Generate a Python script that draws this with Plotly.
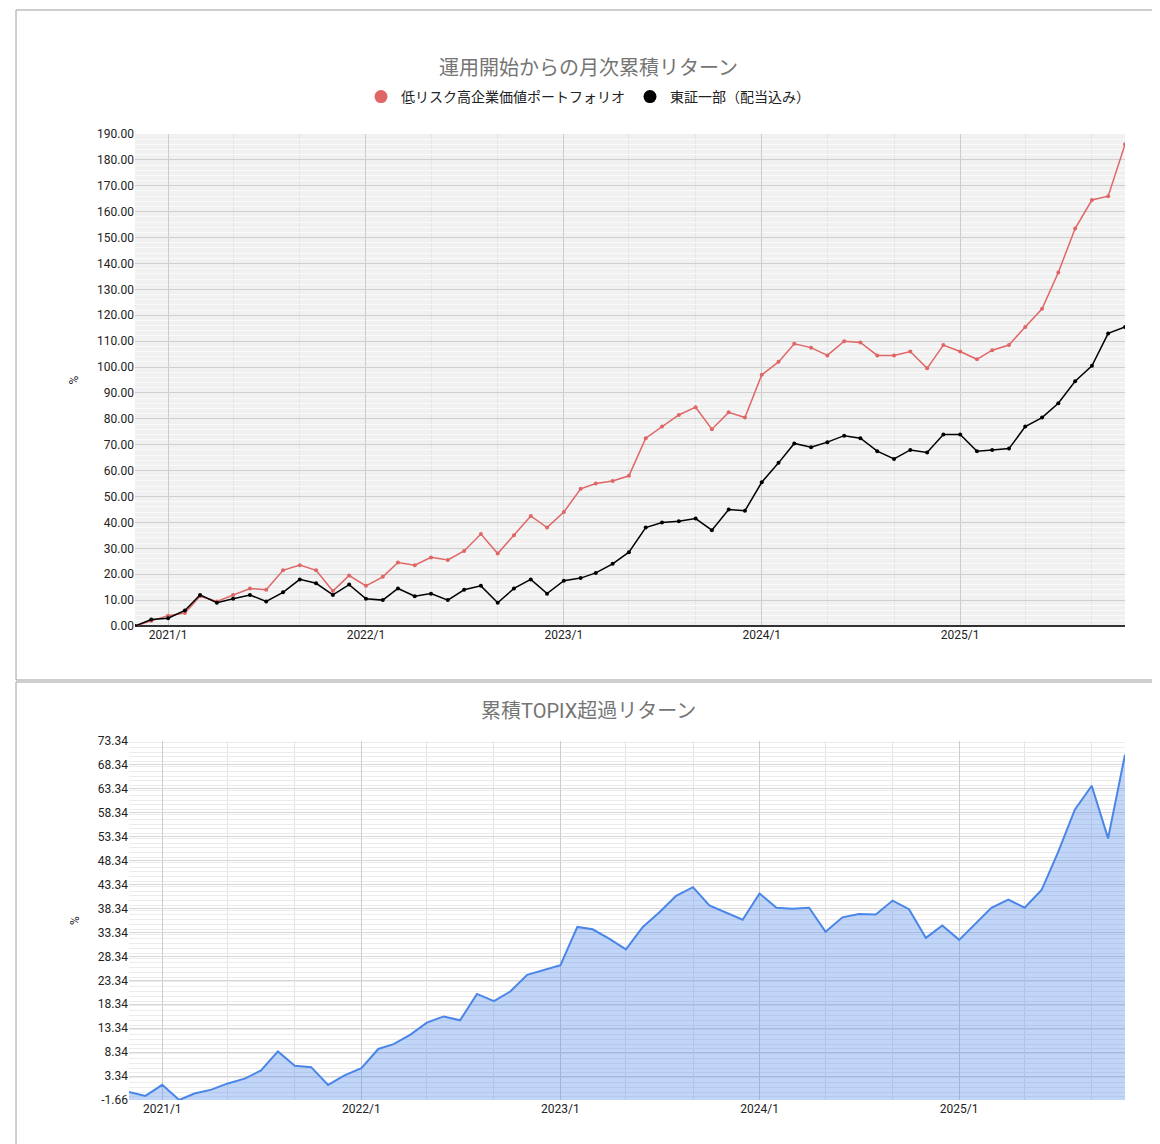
import pandas as pd
import plotly.graph_objects as go

W, H = 1160, 1144

# --- datos (mensual, 2020/11 - 2025/11) ---
meses = pd.date_range("2020-11-01", "2025-11-01", freq="MS")

cartera = [0, 2, 4, 5, 11.5, 9.5, 12, 14.5, 14, 21.5, 23.5, 21.5, 13.5, 19.5,
           15.5, 19, 24.5, 23.5, 26.5, 25.5, 29, 35.5, 28, 35, 42.5, 38,
           44, 53, 55, 56, 58, 72.5, 77, 81.5, 84.5, 76, 82.5, 80.5,
           97, 102, 109, 107.5, 104.5, 110, 109.5, 104.5, 104.5, 106, 99.5, 108.5,
           106, 103, 106.5, 108.5, 115.5, 122.5, 136.5, 153.5, 164.5, 166, 186]

topix = [0, 2.5, 3, 6, 12, 9, 10.5, 12, 9.5, 13, 18, 16.5, 12, 16,
         10.5, 10, 14.5, 11.5, 12.5, 10, 14, 15.5, 9, 14.5, 18, 12.5,
         17.5, 18.5, 20.5, 24, 28.5, 38, 40, 40.5, 41.5, 37, 45, 44.5,
         55.5, 63, 70.5, 69, 71, 73.5, 72.5, 67.5, 64.5, 68, 67, 74,
         74, 67.5, 68, 68.5, 77, 80.5, 86, 94.5, 100.5, 113, 115.5]

exceso = [0, -0.8, 1.5, -1.66, -0.3, 0.5, 1.8, 2.8, 4.5, 8.5, 5.5, 5.2, 1.5, 3.5,
          5, 9, 10, 12, 14.5, 15.8, 15, 20.5, 19, 21, 24.5, 25.5,
          26.5, 34.5, 34, 32, 29.8, 34.5, 37.5, 41, 42.8, 39, 37.5, 36,
          41.5, 38.5, 38.3, 38.5, 33.5, 36.5, 37.2, 37.1, 40, 38.2, 32.2, 34.8,
          31.8, 35.3, 38.5, 40.2, 38.5, 42.2, 50, 59, 64, 53, 70.5]

top_ticks = [i * 10 for i in range(20)]
bot_ticks = [-1.66 + 5 * i for i in range(16)]

series = [("低リスク高企業価値ポートフォリオ", cartera, "#e06666"),
          ("東証一部（配当込み）", topix, "#000000")]

fig = go.Figure()
for nombre, vals, col in series:
    fig.add_trace(go.Scatter(x=meses, y=vals, name=nombre, mode="lines+markers", showlegend=False,
                             line=dict(color=col, width=1.5), marker=dict(size=4, color=col),
                             xaxis="x", yaxis="y"))
# solo para la leyenda (circulos)
for nombre, vals, col in series:
    fig.add_trace(go.Scatter(x=[None], y=[None], name=nombre, mode="markers",
                             marker=dict(size=13, color=col), xaxis="x", yaxis="y"))
# base para el relleno
fig.add_trace(go.Scatter(x=meses, y=[bot_ticks[0]] * len(meses), mode="lines", line=dict(width=0),
                         showlegend=False, hoverinfo="skip", xaxis="x2", yaxis="y2"))
fig.add_trace(go.Scatter(x=meses, y=exceso, mode="lines", fill="tonexty", fillcolor="rgba(74,134,232,0.35)",
                         line=dict(color="#4a86e8", width=2), showlegend=False, xaxis="x2", yaxis="y2"))

fnt = dict(family="Roboto, Noto Sans CJK JP", size=12, color="#222")
xcommon = dict(type="date", tickformat="%Y/%-m", dtick="M12", tick0="2021-01-01",
               showgrid=True, gridcolor="#cccccc", showline=False, zeroline=False,
               tickfont=dict(size=12, color="#222"), ticks="",
               minor=dict(dtick="M4", tick0="2021-01-01", showgrid=True, gridcolor="#e4e4e4"),
               range=[meses[0], meses[-1]])

fig.update_layout(
    width=W, height=H, margin=dict(l=0, r=0, t=0, b=0, autoexpand=False),
    paper_bgcolor="white", plot_bgcolor="#f1f1f1", font=fnt,
    showlegend=True,
    legend=dict(orientation="h", x=0.5, xanchor="center", y=1 - 89 / H, yanchor="middle",
                traceorder="normal", font=dict(size=14, color="#222")),
    xaxis=dict(domain=[127 / W, 1117 / W], anchor="y", **xcommon),
    yaxis=dict(domain=[1 - 618 / H, 1 - 126 / H], anchor="x", range=[0, 190],
               tickvals=top_ticks, ticktext=[f"{v:.2f}" for v in top_ticks],
               gridcolor="#cfcfcf", zeroline=True, zerolinecolor="#333", zerolinewidth=1.5,
               minor=dict(dtick=2, showgrid=True, gridcolor="#fafafa"),
               title=dict(text="%", font=dict(size=12)), ticks=""),
    xaxis2=dict(domain=[121 / W, 1117 / W], anchor="y2", **xcommon),
    yaxis2=dict(domain=[1 - 1092 / H, 1 - 733 / H], anchor="x2", range=[bot_ticks[0], bot_ticks[-1]],
                tickvals=bot_ticks, ticktext=[f"{v:.2f}" for v in bot_ticks],
                gridcolor="#d6d6d6", zeroline=False,
                minor=dict(dtick=1, showgrid=True, gridcolor="#ececec"),
                title=dict(text="%", font=dict(size=12)), ticks=""),
    shapes=[
        dict(type="rect", xref="paper", yref="paper", x0=8 / W, x1=1150 / W, y0=1 - 672 / H, y1=1 - 2 / H,
             line=dict(color="#9e9e9e", width=1)),
        dict(type="rect", xref="paper", yref="paper", x0=8 / W, x1=1150 / W, y0=1 - 1138 / H, y1=1 - 674 / H,
             line=dict(color="#9e9e9e", width=1)),
        dict(type="rect", xref="x2 domain", yref="y2 domain", x0=0, x1=1, y0=0, y1=1,
             fillcolor="white", line=dict(width=0), layer="below"),
    ],
    annotations=[
        dict(text="運用開始からの月次累積リターン", x=0.5, y=1 - 46 / H, xref="paper", yref="paper",
             showarrow=False, font=dict(size=20, color="#757575")),
        dict(text="累積TOPIX超過リターン", x=0.5, y=1 - 703 / H, xref="paper", yref="paper",
             showarrow=False, font=dict(size=20, color="#757575")),
    ],
)

fig.write_html("out.html")
